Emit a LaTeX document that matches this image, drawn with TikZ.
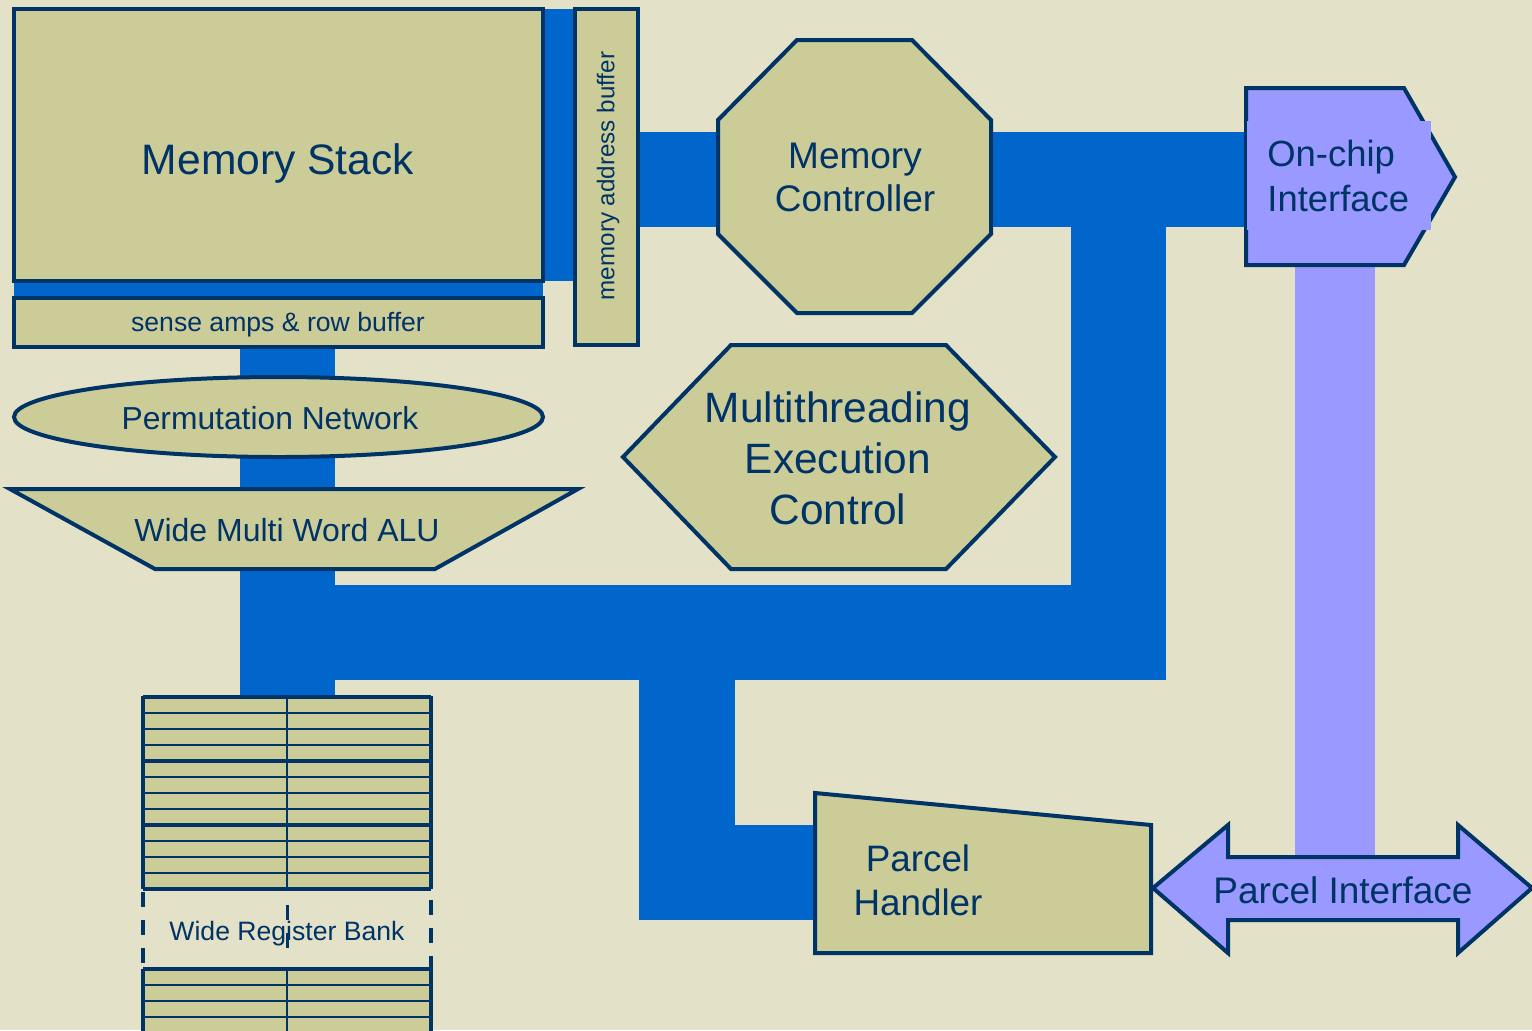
\documentclass[tikz,border=0pt]{standalone}
\usepackage{fontspec}
\setmainfont{Liberation Sans}
\usetikzlibrary{shapes.geometric}
\definecolor{bg}{HTML}{E3E1C7}
\definecolor{tanf}{HTML}{CCCC99}
\definecolor{edgec}{HTML}{003366}
\definecolor{busc}{HTML}{0066CC}
\definecolor{lav}{HTML}{9999FF}
\begin{document}
\begin{tikzpicture}[x=0.5pt,y=-0.5pt,
  box/.style={draw=edgec, fill=tanf, line width=2pt, line join=miter},
  lbox/.style={draw=edgec, fill=lav, line width=2pt, line join=miter},
  busfill/.style={fill=busc},
  lbl/.style={text=edgec, inner sep=0pt, align=center},
  fsz/.style 2 args={font=\fontsize{#1}{#2}\selectfont},
  regthin/.style={draw=edgec, line width=1pt},
  regthick/.style={draw=edgec, line width=2pt},
  regdash/.style={draw=edgec, line width=2pt, dash pattern=on 7.5pt off 6.5pt}]
\useasboundingbox (0,0) rectangle (1532,1030);
\fill[bg] (0,0) rectangle (1532,1030);

% ---- buses (behind) ----
\fill[busfill] (543,9) rectangle (575,281);
\fill[busfill] (14,281) rectangle (543,298);
\fill[busfill] (638,132) rectangle (720,227);
\fill[busfill] (991,132) rectangle (1248,227);
\fill[busfill] (1071,200) rectangle (1166,680);
\fill[busfill] (240,585) rectangle (1166,680);
\fill[busfill] (240,340) rectangle (335,400);
\fill[busfill] (240,440) rectangle (335,495);
\fill[busfill] (240,560) rectangle (335,697);
\fill[busfill] (639,660) rectangle (735,920);
\fill[busfill] (700,825) rectangle (817,920);
\fill[lav] (1295,250) rectangle (1375,860);

% ---- memory stack ----
\node[box, minimum width=264.5pt, minimum height=136pt] (ms) at (278.5,145) {};
\node[lbl, fsz={21.3pt}{25pt}] (msl) at (278,163) {Memory Stack};

% ---- sense amps ----
\node[box, minimum width=264.5pt, minimum height=24.5pt] (sa) at (278.5,322.5) {};
\node[lbl, fsz={13.3pt}{16pt}] (sal) at (278,325) {sense amps \& row buffer};

% ---- memory address buffer ----
\node[box, minimum width=31.5pt, minimum height=168pt] (mab) at (606.5,177) {};
\node[lbl, fsz={12.1pt}{14pt}, rotate=90] (mabl) at (608,176) {memory address buffer};

% ---- memory controller ----
\draw[box] (797,40) -- (912,40) -- (991,120) -- (991,234) -- (912,313) -- (797,313) -- (718,234) -- (718,120) -- cycle;
\node[lbl, fsz={18.5pt}{21.5pt}] (mc) at (855,177) {Memory\\Controller};

% ---- multithreading ----
\draw[box] (623,457) -- (731,345) -- (946,345) -- (1055,457) -- (946,569) -- (731,569) -- cycle;
\node[lbl, fsz={21.2pt}{25.5pt}] (mt) at (838,458) {Multithreading\\Execution\\Control};

% ---- on-chip interface ----
\draw[lbox] (1246,88) -- (1404,88) -- (1455,177) -- (1404,265) -- (1246,265) -- cycle;
\fill[lav] (1247,121) rectangle (1431,230);
\node[lbl, fsz={18.2pt}{22.5pt}, align=left, anchor=west] (oc) at (1267,176) {On-chip\\Interface};

% ---- permutation network ----
\node[box, ellipse, minimum width=264.5pt, minimum height=40pt, inner sep=0pt] (pn) at (278.5,417) {};
\node[lbl, fsz={15.9pt}{18pt}] (pnl) at (270,418) {Permutation Network};

% ---- ALU ----
\draw[box] (10,489) -- (578,489) -- (435,569) -- (155,569) -- cycle;
\node[lbl, fsz={16pt}{18pt}] (alu) at (287,530) {Wide Multi Word ALU};

% ---- parcel handler ----
\draw[box] (815,793) -- (1151,825) -- (1151,953) -- (815,953) -- cycle;
\node[lbl, fsz={18.4pt}{22pt}] (ph) at (918,880) {Parcel\\Handler};

% ---- parcel interface ----
\draw[lbox] (1153,888) -- (1228,825) -- (1228,857) -- (1458,857) -- (1458,825) -- (1532,888)
  -- (1458,953) -- (1458,920) -- (1228,920) -- (1228,953) -- cycle;
\node[lbl, fsz={18.5pt}{22pt}] (pi) at (1343,890) {Parcel Interface};

% ---- wide register bank ----
\fill[tanf] (143,697) rectangle (431,889);
\fill[tanf] (143,969) rectangle (431,1040);
\foreach \yy in {713,729,745,777,793,809,841,857,873,985,1001,1017} {
  \draw[regthin] (143,\yy) -- (431,\yy);
}
\foreach \yy in {697,761,825,889,969,1033} {
  \draw[regthick] (143,\yy) -- (431,\yy);
}
\draw[regthin, line width=1.2pt] (287,697) -- (287,889);
\draw[regthin, line width=1.2pt] (287,969) -- (287,1040);
\draw[regthick] (143,696) -- (143,889);
\draw[regthick] (431,696) -- (431,889);
\draw[regthick] (143,969) -- (143,1040);
\draw[regthick] (431,969) -- (431,1040);
\draw[regdash, dash phase=-1.5pt] (143,889) -- (143,969);
\draw[regdash, dash phase=-5.5pt] (431,889) -- (431,969);
\draw[regthin, line width=1.5pt, dash pattern=on 7.5pt off 6.5pt] (287,905) -- (287,955);
\node[lbl, fsz={13.3pt}{15pt}] (wrb) at (287,934) {Wide Register Bank};
\end{tikzpicture}
\end{document}
